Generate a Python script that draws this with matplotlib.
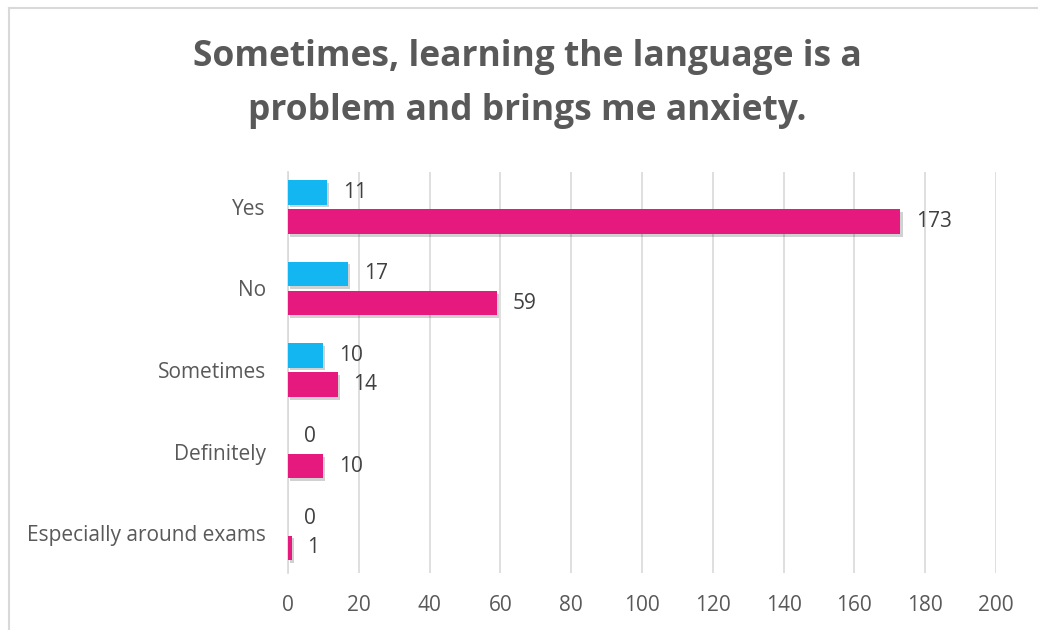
import matplotlib
matplotlib.use("Agg")
import matplotlib.pyplot as plt
import matplotlib.patheffects as pe
from matplotlib.lines import Line2D
import numpy as np

categories = ["Yes", "No", "Sometimes", "Definitely", "Especially around exams"]
series_blue = [11, 17, 10, 0, 0]
series_pink = [173, 59, 14, 10, 1]
x_ticks = [0, 20, 40, 60, 80, 100, 120, 140, 160, 180, 200]
title = "Sometimes, learning the language is a\nproblem and brings me anxiety."

plt.rcParams['font.family'] = ['Open Sans', 'DejaVu Sans']

fig = plt.figure(figsize=(10.38, 6.30), dpi=100)
W, H = 1038, 630
ax = fig.add_axes([288 / W, 1 - 573 / H, (996 - 288) / W, (573 - 172) / H])

y = np.arange(len(categories))
h = 0.30
off = 0.18
shadow = [pe.SimplePatchShadow(offset=(1.5, -2), shadow_rgbFace='black', alpha=0.18), pe.Normal()]
ax.barh(y - off, series_blue, height=h, color='#14B6F2', zorder=3, path_effects=shadow)
ax.barh(y + off, series_pink, height=h, color='#E6197F', zorder=3, path_effects=shadow)

for yi, v in zip(y - off, series_blue):
    ax.text(v + 4.5, yi, str(v), va='center', ha='left', fontsize=15, color='#404040')
for yi, v in zip(y + off, series_pink):
    ax.text(v + 4.5, yi, str(v), va='center', ha='left', fontsize=15, color='#404040')

ax.set_xlim(0, 200)
ax.set_ylim(4.49, -0.429)
ax.set_xticks(x_ticks)
ax.set_xticklabels([str(t) for t in x_ticks])
ax.set_yticks(y)
ax.set_yticklabels(categories)
ax.tick_params(axis='both', length=0, labelsize=15, labelcolor='#595959')
ax.tick_params(axis='x', pad=16)
ax.tick_params(axis='y', pad=16)
ax.grid(axis='x', color='#D9D9D9', linewidth=1.2, zorder=0)
for s in ['top', 'right', 'bottom']:
    ax.spines[s].set_visible(False)
ax.spines['left'].set_color('#D9D9D9')
ax.spines['left'].set_linewidth(1.2)

fig.text(527 / W, 1 - 84 / H, title, ha='center', va='center', fontsize=25.5,
         fontweight='bold', color='#595959', linespacing=1.65)

fig.add_artist(Line2D([9 / W, 9 / W], [0, 1 - 8 / H], transform=fig.transFigure, color='#D9D9D9', lw=1.5))
fig.add_artist(Line2D([9 / W, 1], [1 - 8 / H, 1 - 8 / H], transform=fig.transFigure, color='#D9D9D9', lw=1.5))

fig.savefig("out.png", dpi=100)
